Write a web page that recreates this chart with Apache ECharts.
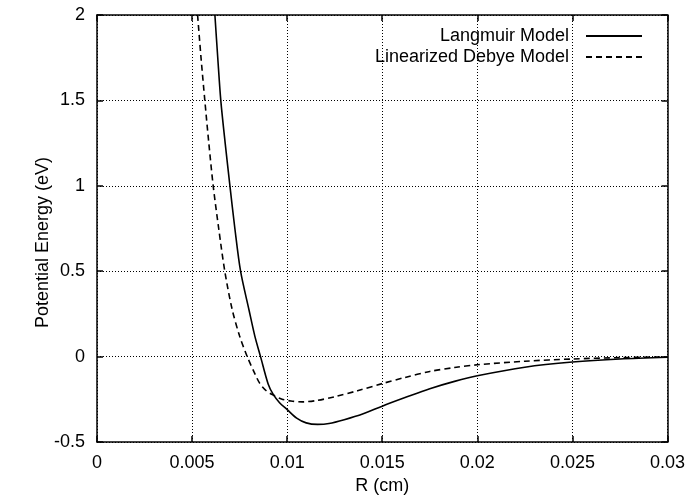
<!DOCTYPE html>
<html>
<head>
<meta charset="utf-8">
<script src="https://cdn.jsdelivr.net/npm/echarts@6/dist/echarts.min.js"></script>
<style>
  html, body { margin: 0; padding: 0; background: #fff; }
  #chart { width: 688px; height: 500px; }
</style>
</head>
<body>
<div id="chart"></div>
<script>
// values
var seriesNames = ['Langmuir Model', 'Linearized Debye Model'];

var langmuirR = [0.0062, 0.00635, 0.00651, 0.00674, 0.00699, 0.00725, 0.00755, 0.0080, 0.0083, 0.0086, 0.0090,
    0.00926, 0.0096, 0.0100, 0.0105, 0.0110, 0.0116, 0.0122, 0.0130, 0.0140, 0.0150, 0.0162, 0.0175, 0.0188,
    0.0200, 0.0225, 0.0250, 0.0275, 0.0300];
var langmuirE = [2.0, 1.75, 1.5, 1.25, 1.0, 0.75, 0.5, 0.27, 0.12, 0.0, -0.16,
    -0.22, -0.27, -0.31, -0.36, -0.388, -0.397, -0.392, -0.37, -0.335, -0.29, -0.24, -0.188, -0.145,
    -0.112, -0.062, -0.032, -0.014, -0.004];

var debyeR = [0.00529, 0.00547, 0.00567, 0.00588, 0.00611, 0.0064, 0.00672, 0.0071, 0.0075, 0.0079, 0.0083,
    0.00856, 0.0089, 0.00926, 0.0097, 0.0102, 0.0108, 0.0115, 0.0125, 0.0137, 0.0150, 0.0162, 0.0175, 0.0188,
    0.0200, 0.0225, 0.0250, 0.0275, 0.0300];
var debyeE = [2.0, 1.75, 1.5, 1.25, 1.0, 0.75, 0.5, 0.28, 0.12, 0.0, -0.1,
    -0.157, -0.2, -0.225, -0.248, -0.26, -0.265, -0.258, -0.235, -0.2, -0.158, -0.122, -0.087, -0.064,
    -0.048, -0.027, -0.014, -0.006, -0.002];

var xTickLabels = ['0', '0.005', '0.01', '0.015', '0.02', '0.025', '0.03'];
var yTickLabels = ['-0.5', '0', '0.5', '1', '1.5', '2'];

function pairs(xs, ys) {
    return xs.map(function (x, i) { return [x, ys[i]]; });
}

var font = 'Liberation Sans';
var xStep = 0.005, yStep = 0.5;

var myChart = echarts.init(document.getElementById('chart'));

var baseX = {
    type: 'value',
    min: 0,
    max: 0.03,
    interval: xStep,
    axisLine: { onZero: false, lineStyle: { color: '#000', width: 1.5 } },
    axisTick: { inside: true, length: 6, lineStyle: { color: '#000', width: 1.5 } },
    splitLine: { show: false }
};
var baseY = {
    type: 'value',
    min: -0.5,
    max: 2,
    interval: yStep,
    axisLine: { show: true, onZero: false, lineStyle: { color: '#000', width: 1.5 } },
    axisTick: { show: true, inside: true, length: 6, lineStyle: { color: '#000', width: 1.5 } },
    splitLine: { show: false }
};

// one legend per series so both rows line up on the right
function legendFor(name, top) {
    return {
        data: [name],
        right: 40,
        top: top,
        align: 'right',
        itemWidth: 56,
        itemHeight: 10,
        itemStyle: { opacity: 0, borderWidth: 0 },
        formatter: function (n) { return '{t|' + n + '}'; },
        textStyle: {
            fontFamily: font, fontSize: 18, color: '#000',
            rich: { t: { fontFamily: font, fontSize: 18, color: '#000', padding: [0, 12, 0, 0] } }
        }
    };
}

var option = {
    backgroundColor: '#fff',
    animation: false,
    textStyle: { fontFamily: font, color: '#000' },
    grid: {
        left: 97,
        right: 20,
        top: 15,
        bottom: 58
    },
    legend: [legendFor(seriesNames[0], 22), legendFor(seriesNames[1], 43)],
    xAxis: [
        echarts.util.merge({
            position: 'bottom',
            name: 'R (cm)',
            nameLocation: 'middle',
            nameGap: 31,
            nameTextStyle: { fontFamily: font, fontSize: 18, color: '#000' },
            axisLabel: {
                margin: 12,
                fontFamily: font,
                fontSize: 18,
                color: '#000',
                formatter: function (v) { return xTickLabels[Math.round(v / xStep)]; }
            },
            splitLine: { show: true, lineStyle: { color: '#000', type: [1, 2], width: 1 } }
        }, baseX, false),
        echarts.util.merge({
            position: 'top',
            axisLabel: { show: false }
        }, baseX, false)
    ],
    yAxis: [
        echarts.util.merge({
            position: 'left',
            name: 'Potential Energy (eV)',
            nameLocation: 'middle',
            nameGap: 45,
            nameMoveOverlap: false,
            nameTextStyle: { fontFamily: font, fontSize: 18, color: '#000', padding: [0, 28, 0, 0] },
            axisLabel: {
                margin: 12,
                fontFamily: font,
                fontSize: 18,
                color: '#000',
                formatter: function (v) { return yTickLabels[Math.round((v + 0.5) / yStep)]; }
            },
            splitLine: { show: true, lineStyle: { color: '#000', type: [1, 2], width: 1 } }
        }, baseY, false),
        echarts.util.merge({
            position: 'right',
            axisLabel: { show: false }
        }, baseY, false)
    ],
    series: [
        {
            name: seriesNames[0],
            type: 'line',
            data: pairs(langmuirR, langmuirE),
            smooth: 0.3,
            symbol: 'none',
            color: '#000',
            lineStyle: { color: '#000', width: 1.6, type: 'solid' }
        },
        {
            name: seriesNames[1],
            type: 'line',
            data: pairs(debyeR, debyeE),
            smooth: 0.3,
            symbol: 'none',
            color: '#000',
            lineStyle: { color: '#000', width: 1.6, type: [6, 4] }
        }
    ]
};

myChart.setOption(option);
</script>
</body>
</html>
